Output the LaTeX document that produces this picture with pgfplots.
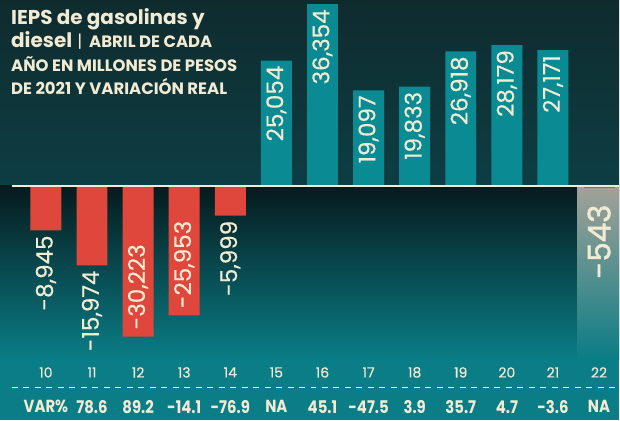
\documentclass[border=0pt]{standalone}
\usepackage{pgfplots}
\pgfplotsset{compat=1.18}
\usepackage{pgfplotstable}
\usepackage{fontspec}
\setmainfont{Poppins}
\newfontfamily\numfont{Poppins}[FakeBold=0.4]
\newfontfamily\heavyfont{Poppins}[FakeBold=1.6]
\newfontfamily\varfont{Poppins}[FakeStretch=0.85]
\definecolor{bgtop}{HTML}{0F2B2E}
\definecolor{bgmid}{HTML}{0D3E44}
\definecolor{bgdark}{HTML}{061A1D}
\definecolor{bgteal}{HTML}{0A7D86}
\definecolor{barteal}{HTML}{0A8A93}
\definecolor{barred}{HTML}{E0473C}
\definecolor{cream}{HTML}{F2EBD3}
\definecolor{hl}{HTML}{A3A298}

\pgfplotstableread{
x y label
15 25054 25,054
16 36354 36,354
17 19097 19,097
18 19833 19,833
19 26918 26,918
20 28179 28,179
21 27171 27,171
}\pos
\pgfplotstableread{
x y label
10 -8945 -8,945
11 -15974 -15,974
14 -5999 -5,999
}\negout
\pgfplotstableread{
x y label
12 -30223 -30,223
13 -25953 -25,953
}\negin
\pgfplotstableread{
x y label
22 -543 -543
}\lastyear
\pgfplotstableread{
x y label
10 -44300 VAR\%
11 -44300 78.6
12 -44300 89.2
13 -44300 -14.1
14 -44300 -76.9
15 -44300 NA
16 -44300 45.1
17 -44300 -47.5
18 -44300 3.9
19 -44300 35.7
20 -44300 4.7
21 -44300 -3.6
22 -44300 NA
}\varrow

\begin{document}
\begin{tikzpicture}
% background panels
\shade[top color=bgtop, bottom color=bgmid] (0,235pt) rectangle (620pt,421pt);
\shade[top color=bgdark, bottom color=bgteal] (0,61pt) rectangle (620pt,235pt);
\fill[bgteal] (0,0) rectangle (620pt,61.2pt);
\shade[top color=hl, bottom color=bgteal] (578pt,61pt) rectangle (620pt,235pt);

\begin{axis}[
  at={(0,0)}, anchor=south west,
  width=620pt, height=421pt, scale only axis,
  xmin=9.004, xmax=22.433, ymin=-47000, ymax=37200,
  axis line style={draw=none},
  xtick={10,...,22},
  xticklabels={10,11,12,13,14,15,16,17,18,19,20,21,22},
  xtick style={draw=none},
  ytick=\empty,
  xticklabel style={anchor=center, yshift=48pt, text=cream, font=\numfont\fontsize{14}{14}\selectfont},
  clip=false,
]
\addplot[ybar, bar width=31pt, bar shift=0pt, fill=barteal, draw=none,
  nodes near coords, point meta=explicit symbolic,
  every node near coord/.append style={yshift=-5pt, rotate=90, anchor=east, text=cream, font=\numfont\fontsize{23}{23}\selectfont, inner sep=0pt}]
  table[x=x, y=y, meta=label] {\pos};
\addplot[ybar, bar width=31pt, bar shift=0pt, fill=barred, draw=none,
  nodes near coords, point meta=explicit symbolic,
  every node near coord/.append style={yshift=-5pt, rotate=90, anchor=east, text=cream, font=\numfont\fontsize{23}{23}\selectfont, inner sep=0pt}]
  table[x=x, y=y, meta=label] {\negout};
\addplot[ybar, bar width=31pt, bar shift=0pt, fill=barred, draw=none,
  nodes near coords, point meta=explicit symbolic,
  every node near coord/.append style={yshift=7pt, rotate=90, anchor=west, text=cream, font=\numfont\fontsize{23}{23}\selectfont, inner sep=0pt}]
  table[x=x, y=y, meta=label] {\negin};
\addplot[ybar, bar width=31pt, bar shift=0pt, fill=barred, draw=none,
  nodes near coords, point meta=explicit symbolic,
  every node near coord/.append style={yshift=-16pt, rotate=90, anchor=east, text=cream, font=\heavyfont\fontsize{31}{31}\selectfont, inner sep=0pt}]
  table[x=x, y=y, meta=label] {\lastyear};
\addplot[draw=none, mark=none,
  nodes near coords, point meta=explicit symbolic,
  every node near coord/.append style={anchor=center, text=cream, font=\varfont\bfseries\fontsize{17.5}{17.5}\selectfont, inner sep=0pt}]
  table[x=x, y=y, meta=label] {\varrow};
\end{axis}

% baseline and dashed separator
\draw[cream, line width=2pt] (12pt,235pt) -- (620pt,235pt);
\draw[cream, line width=1.4pt, dash pattern=on 6pt off 5.5pt] (12pt,33pt) -- (620pt,33pt);

% title
\node[anchor=base west, inner sep=0pt, text=cream, font=\bfseries\fontsize{20}{20}\selectfont] at (11pt,396pt) {IEPS de gasolinas y};
\node[anchor=base west, inner sep=0pt, text=cream] at (11pt,373pt) {{\bfseries\fontsize{20}{20}\selectfont diesel}\hspace{5pt}{\fontsize{17}{17}\selectfont|}\hspace{7pt}{\bfseries\fontsize{16.5}{16.5}\selectfont ABRIL DE CADA}};
\node[anchor=base west, inner sep=0pt, text=cream, font=\bfseries\fontsize{16.5}{16.5}\selectfont] at (11pt,349pt) {AÑO EN MILLONES DE PESOS};
\node[anchor=base west, inner sep=0pt, text=cream, font=\bfseries\fontsize{16.5}{16.5}\selectfont] at (11pt,326pt) {DE 2021 Y VARIACIÓN REAL};
\end{tikzpicture}
\end{document}
